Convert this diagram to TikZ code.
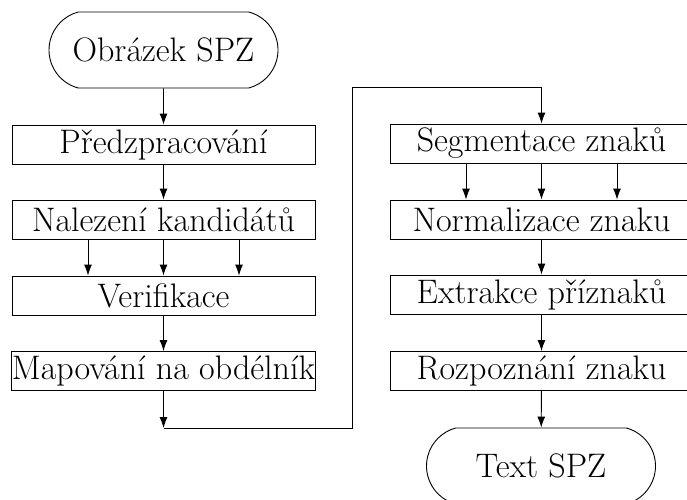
\documentclass[tikz,border=0pt]{standalone}
\usepackage{fontspec}
\usetikzlibrary{shapes.misc,arrows.meta}
\tikzset{
  every node/.style={font=\fontsize{34}{40}\selectfont},
  procbox/.style={draw, line width=0.9pt, rectangle, minimum width=303pt, minimum height=39pt, inner sep=0pt},
  termbox/.style={draw, line width=0.9pt, rounded rectangle, rounded rectangle arc length=150,
    minimum width=229pt, minimum height=76pt, inner sep=0pt},
  flow/.style={line width=0.9pt, -{Latex[length=11pt,width=8pt]}},
  link/.style={line width=0.9pt}
}
\begin{document}
\begin{tikzpicture}[x=1pt,y=-1pt]
  \useasboundingbox (0,0) rectangle (687,499);
  % left column
  \node[termbox] (start) at (163.5,50) {Obrázek SPZ};
  \node[procbox] (pre) at (163.5,144.5) {Předzpracování};
  \node[procbox] (cand) at (163.5,219.5) {Nalezení kandidátů};
  \node[procbox] (ver) at (163.5,295.5) {Verifikace};
  \node[procbox] (map) at (163.5,371) {Mapování na obdélník};
  % right column
  \node[procbox] (seg) at (541.5,143.5) {Segmentace znaků};
  \node[procbox] (norm) at (541.5,219.5) {Normalizace znaku};
  \node[procbox] (ext) at (541.5,294.5) {Extrakce příznaků};
  \node[procbox] (rec) at (541.5,371) {Rozpoznání znaku};
  \node[termbox] (stop) at (541,466) {Text SPZ};
  % route between the columns
  \coordinate (c1) at (163.5,428);
  \coordinate (c2) at (352,428);
  \coordinate (c3) at (352,87);
  \coordinate (c4) at (541.5,87);

  \draw[flow] (start) -- (pre);
  \draw[flow] (pre) -- (cand);
  \foreach \dx in {-75.5,0,75.5}
    \draw[flow] ([xshift=\dx pt]cand.south) -- ([xshift=\dx pt]ver.north);
  \draw[flow] (ver) -- (map);
  \draw[flow] (map) -- (c1);
  \draw[link] (c1) -- (c2) -- (c3) -- (c4);
  \draw[flow] (c4) -- (seg);
  \foreach \dx in {-75.5,0,75.5}
    \draw[flow] ([xshift=\dx pt]seg.south) -- ([xshift=\dx pt]norm.north);
  \draw[flow] (norm) -- (ext);
  \draw[flow] (ext) -- (rec);
  \draw[flow] (rec) -- (stop);
\end{tikzpicture}
\end{document}
